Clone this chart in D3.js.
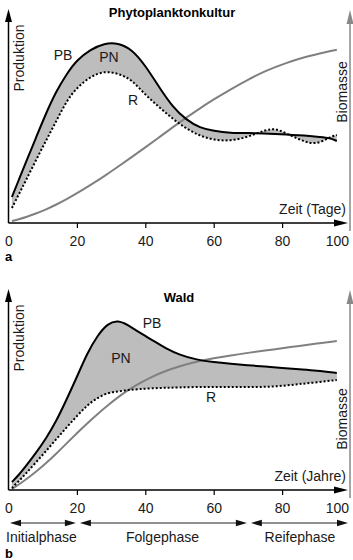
<!DOCTYPE html>
<html><head><meta charset="utf-8">
<script src="https://cdn.jsdelivr.net/npm/d3@7"></script>
<style>
body{margin:0;background:#fff;}
svg{display:block;font-family:"Liberation Sans",Arial,sans-serif;}
</style></head>
<body><svg id="c" width="353" height="560"></svg>
<script>
// ---------- data ----------
const xTicks = [0, 20, 40, 60, 80, 100];

// Panel a: Phytoplanktonkultur (days)
const topDays = [1,3,5,8,11,14,17,20,24,28,32,36,40,44,48,52,56,60,65,70,75,78,81,85,88,91,94,96];
const topPB   = [13,21.5,30,42.5,55,66,74.5,81.5,86.8,89.9,90.1,87,78.8,68,58,51.5,47.5,46,45,45,44.8,44.5,44.2,43.9,43.5,43,42.5,41];
const topR    = [7.5,14.3,21,31.3,41.3,51,61.1,67.7,73.3,76,74.8,71.8,64,58.1,52,47.2,43.5,41.5,41,43,46.5,47.3,45,41.8,39.8,40,43,44];
const topBio  = [1,1.9,2.9,4.7,6.8,9.2,11.9,14.8,19,23.4,28.1,32.9,37.8,42.8,47.8,52.7,57.4,61.8,66.9,71.7,75.9,78,79.9,82.1,83.5,84.8,85.9,86.6];

// Panel b: Wald (years)
const botDays = [1,3,5,8,11,14,17,20,23,26,29,32,35,38,42,46,50,55,60,65,70,75,80,85,90,96];
const botPB   = [4,7.5,11.8,18.5,25.8,34.5,45.3,56.5,68.4,77.2,83.3,84.9,82.5,79,75,70.8,67.6,65.1,63.9,63.1,62.4,61.7,61,60.3,59.7,58.5];
const botR    = [1,4.5,8,13.8,19.5,25.5,31.3,37,42.4,46.1,48.6,49.3,50,50.4,50.9,51.1,51.3,51.5,51.5,51.5,51.5,51.5,52,53,53.8,55];
const botBio  = [0.5,2.7,5.1,9,13.4,18.2,23.3,28.4,33.3,38,42.3,46.4,50,53.1,56.7,59.6,61.9,64.2,65.9,67.3,68.6,69.7,70.9,72,73.2,74.5];

const phases = [
  {name:"Initialphase", from:0, to:20},
  {name:"Folgephase", from:20, to:70},
  {name:"Reifephase", from:70, to:100}
];

// ---------- drawing ----------
const svg = d3.select("#c");
svg.append("rect").attr("width",353).attr("height",560).attr("fill","#fff");
const x = d3.scaleLinear().domain([0,100]).range([8.5,350.5]);
const FILL = "#bdbdbd", BIO = "#808080", TXT = "#1a1a1a";

function panel(o){
  const g = svg.append("g");
  const y = d3.scaleLinear().domain([0,100]).range([o.base, o.base-200]);
  const rows = o.days.map((d,i)=>({d, pb:o.pb[i], r:o.r[i], b:o.bio[i]}));
  const curve = d3.curveBasis;

  g.append("path").datum(rows).attr("fill",FILL)
    .attr("d", d3.area().curve(curve).x(d=>x(d.d)).y0(d=>y(d.r)).y1(d=>y(d.pb)));
  g.append("path").datum(rows).attr("fill","none").attr("stroke",BIO).attr("stroke-width",2)
    .attr("d", d3.line().curve(curve).x(d=>x(d.d)).y(d=>y(d.b)));
  g.append("path").datum(rows).attr("fill","none").attr("stroke","#000").attr("stroke-width",2)
    .attr("d", d3.line().curve(curve).x(d=>x(d.d)).y(d=>y(d.pb)));
  g.append("path").datum(rows).attr("fill","none").attr("stroke","#000").attr("stroke-width",2)
    .attr("stroke-dasharray","2,2")
    .attr("d", d3.line().curve(curve).x(d=>x(d.d)).y(d=>y(d.r)));

  const x0 = x(0), xr = 350, b = o.base;
  // left axis
  g.append("line").attr("x1",x0).attr("x2",x0).attr("y1",b).attr("y2",o.topTip+6)
    .attr("stroke","#000").attr("stroke-width",1.5);
  g.append("path").attr("d",`M${x0},${o.topTip} L${x0-3.5},${o.topTip+13} L${x0+3.5},${o.topTip+13}Z`).attr("fill","#000");
  // right axis (grey)
  g.append("line").attr("x1",xr).attr("x2",xr).attr("y1",b+8).attr("y2",o.topTip+6)
    .attr("stroke","#888").attr("stroke-width",1.5);
  g.append("path").attr("d",`M${xr},${o.topTip+1} L${xr-3.5},${o.topTip+15} L${xr+3.5},${o.topTip+15}Z`).attr("fill","#888");
  // x axis
  g.append("line").attr("x1",x0).attr("x2",340).attr("y1",b).attr("y2",b)
    .attr("stroke","#000").attr("stroke-width",1.5);
  g.append("path").attr("d",`M348,${b} L334,${b-3.5} L334,${b+3.5}Z`).attr("fill","#000");

  const ax = g.append("g").attr("transform",`translate(0,${b})`)
    .call(d3.axisBottom(x).tickValues(xTicks).tickSize(5).tickPadding(o.pad).tickFormat(d3.format("d")));
  ax.select(".domain").remove();
  ax.selectAll(".tick line").attr("stroke","#000").attr("stroke-width",1.2)
    .filter(d=>d===0||d===100).remove();
  ax.selectAll(".tick text").attr("font-size",14).attr("fill",TXT)
    .attr("font-family","Liberation Sans, Arial, sans-serif");
  ax.selectAll(".tick").filter(d=>d===100).select("text").attr("text-anchor","end").attr("dx",-2);

  // texts
  g.append("text").attr("x",o.titleX).attr("y",o.titleY).attr("text-anchor","middle")
    .attr("font-weight","bold").attr("font-size",13).attr("fill","#000").text(o.title);
  g.append("text").attr("transform",`translate(24,${o.prodY}) rotate(-90)`).attr("text-anchor","middle")
    .attr("font-size",14).attr("fill",TXT).text("Produktion");
  g.append("text").attr("transform",`translate(347,${o.bioY}) rotate(-90)`).attr("text-anchor","middle")
    .attr("font-size",14).attr("fill",TXT).text("Biomasse");
  g.append("text").attr("x",346).attr("y",b-9).attr("text-anchor","end")
    .attr("font-size",14).attr("fill",TXT).text(o.xlabel);
  o.labels.forEach(l=>{
    g.append("text").attr("x",l.x).attr("y",l.y).attr("text-anchor","middle")
      .attr("font-size",14).attr("fill",TXT).text(l.t);
  });
  g.append("text").attr("x",5).attr("y",o.letterY).attr("font-weight","bold")
    .attr("font-size",13).attr("fill","#000").text(o.letter);
}

panel({base:223, topTip:9, pad:8, days:topDays, pb:topPB, r:topR, bio:topBio,
  title:"Phytoplanktonkultur", titleX:172, titleY:17, prodY:58, bioY:92, xlabel:"Zeit (Tage)",
  labels:[{t:"PB",x:63,y:60},{t:"PN",x:109,y:62},{t:"R",x:133,y:105}],
  letter:"a", letterY:261});

panel({base:490, topTip:289, pad:8, days:botDays, pb:botPB, r:botR, bio:botBio,
  title:"Wald", titleX:179, titleY:302, prodY:338, bioY:419, xlabel:"Zeit (Jahre)",
  labels:[{t:"PB",x:152,y:328},{t:"PN",x:121,y:363},{t:"R",x:211,y:402}],
  letter:"b", letterY:558});

// phase arrows
const py = 523;
const pg = svg.append("g");
phases.forEach((p,i)=>{
  const a = i===0 ? 10 : x(p.from)+3, e = i===2 ? 348 : x(p.to)-1;
  pg.append("line").attr("x1",a+8).attr("x2",e-8).attr("y1",py).attr("y2",py)
    .attr("stroke","#222").attr("stroke-width",1.2);
  pg.append("path").attr("d",`M${a},${py} L${a+11},${py-3.3} L${a+11},${py+3.3}Z`).attr("fill","#111");
  pg.append("path").attr("d",`M${e},${py} L${e-11},${py-3.3} L${e-11},${py+3.3}Z`).attr("fill","#111");
  const cx = i===0 ? 41.5 : i===1 ? 162.5 : 300;
  pg.append("text").attr("x",cx).attr("y",542).attr("text-anchor","middle")
    .attr("font-size",14).attr("fill",TXT).text(p.name);
});
</script></body></html>
